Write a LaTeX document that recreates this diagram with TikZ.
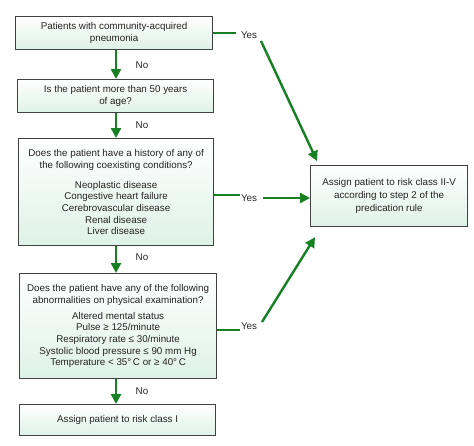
\documentclass[tikz,border=0pt]{standalone}
\usepackage{fontspec}
\setmainfont{Liberation Sans}
\usetikzlibrary{arrows.meta}
\definecolor{flowgreen}{RGB}{22,128,34}
\definecolor{boxline}{RGB}{65,65,65}
\definecolor{mint}{RGB}{222,242,232}
\definecolor{txt}{RGB}{35,35,35}
\begin{document}
\begin{tikzpicture}[x=1pt,y=-1pt,
  box/.style={draw=boxline,line width=1.2pt,top color=white,bottom color=mint,
    anchor=north west,align=center,inner sep=0pt,text=txt,
    font=\fontsize{9.8}{11.6}\selectfont},
  arr/.style={draw=flowgreen,line width=2.4pt,-{Triangle[length=10pt,width=10pt]}},
  ln/.style={draw=flowgreen,line width=2.4pt},
  lbl/.style={text=txt,font=\fontsize{9.8}{11.6}\selectfont,inner sep=0pt}]
\useasboundingbox (0,0) rectangle (474,445);

\node[box,minimum width=197pt,minimum height=33pt] (b1) at (15,16)
  {Patients with community-acquired\\pneumonia};
\node[box,minimum width=196pt,minimum height=33pt] (b2) at (17,79)
  {Is the patient more than 50 years\\of age?};
\node[box,minimum width=195pt,minimum height=107pt] (b3) at (18,138)
  {Does the patient have a history of any of\\the following coexisting conditions?\\[8.5pt]
   Neoplastic disease\\Congestive heart failure\\Cerebrovascular disease\\Renal disease\\Liver disease};
\node[box,minimum width=197pt,minimum height=105pt] (b4) at (19,273)
  {Does the patient have any of the following\\abnormalities on physical examination?\\[4.5pt]
   Altered mental status\\Pulse ≥ 125/minute\\Respiratory rate ≤ 30/minute\\
   Systolic blood pressure ≤ 90 mm Hg\\Temperature < 35°\,C or ≥ 40°\,C};
\node[box,minimum width=196pt,minimum height=31pt] (b5) at (19,404)
  {Assign patient to risk class I};
\node[box,minimum width=157pt,minimum height=61pt,font=\fontsize{9.8}{13}\selectfont] (b6) at (310,165)
  {Assign patient to risk class II-V\\according to step 2 of the\\predication rule};

% vertical "No" arrows
\coordinate (ax) at (116,0);
\draw[arr] (b1.south -| ax) -- (b2.north -| ax);
\draw[arr] (b2.south -| ax) -- (b3.north -| ax);
\draw[arr] (b3.south -| ax) -- (b4.north -| ax);
\draw[arr] (b4.south -| ax) -- (b5.north -| ax);
\node[lbl] (no1) at (142,65) {No};
\node[lbl] (no2) at (142,125) {No};
\node[lbl] (no3) at (142,257) {No};
\node[lbl] (no4) at (142,391) {No};

% "Yes" branches
\coordinate (e1) at (236,33);
\draw[ln] (e1 -| b1.east) -- (e1);
\node[lbl] (yes1) at (249,35) {Yes};
\coordinate (s1) at (261,41);
\draw[arr] (s1) -- ([shift={(7,-4)}]b6.north west);

\coordinate (e2) at (240,195);
\draw[ln] (e2 -| b3.east) -- (e2);
\node[lbl] (yes2) at (249,198) {Yes};
\coordinate (s2) at (263,198);
\draw[arr] (s2) -- (s2 -| b6.west);

\coordinate (e3) at (240,330);
\draw[ln] (e3 -| b4.east) -- (e3);
\node[lbl] (yes3) at (249,326) {Yes};
\coordinate (s3) at (262,322);
\draw[arr] (s3) -- ([shift={(5,10)}]b6.south west);
\end{tikzpicture}
\end{document}
